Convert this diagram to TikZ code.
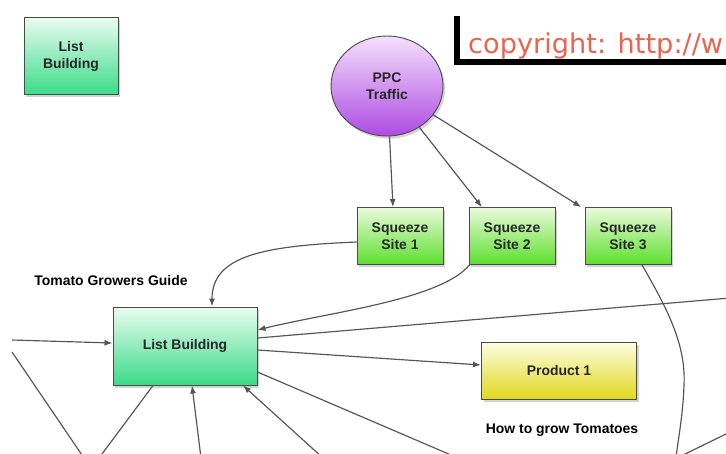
\documentclass[tikz,border=0pt]{standalone}
\usepackage{fontspec}
\setmainfont{Liberation Sans}
\newfontfamily\urlfont{DejaVu Sans}
\usetikzlibrary{arrows.meta,shapes.geometric,shadows}

\definecolor{edgegray}{HTML}{4A4A4A}
\definecolor{linkgray}{HTML}{555555}
\definecolor{listtop}{HTML}{EAFCF1}
\definecolor{listbot}{HTML}{3ADB88}
\definecolor{sqtop}{HTML}{EAFBDC}
\definecolor{sqbot}{HTML}{5CDF2C}
\definecolor{prodtop}{HTML}{FDFDE2}
\definecolor{prodbot}{HTML}{DFD81C}
\definecolor{ppctop}{HTML}{F5E0FC}
\definecolor{ppcbot}{HTML}{AE4AE4}
\definecolor{urlred}{HTML}{E8644F}

\begin{document}
\begin{tikzpicture}[x=0.3mm, y=-0.3mm,
  font=\bfseries\fontsize{11.9}{14.5}\selectfont,
  boxnode/.style={draw=edgegray, line width=0.8pt, align=center, text=black!85,
    drop shadow={shadow xshift=0.6mm, shadow yshift=-0.8mm, opacity=0.35}},
  listbox/.style={boxnode, top color=listtop, bottom color=listbot},
  sqbox/.style={boxnode, top color=sqtop, bottom color=sqbot,
    minimum width=25.8mm, minimum height=17.1mm},
  prodbox/.style={boxnode, top color=prodtop, bottom color=prodbot},
  ppcnode/.style={boxnode, ellipse, inner sep=0pt, top color=ppctop, bottom color=ppcbot},
  link/.style={draw=linkgray, line width=1pt},
  tip/.style={-{Latex[length=2.4mm,width=1.8mm]}}
]
  \useasboundingbox (0,0) rectangle (726,453);
  \clip (0,0) rectangle (726,453);

  % copyright frame, running off the right edge as in the screenshot
  \draw[black, line width=1.6mm] (457,16) -- (457,62) -- (740,62);
  \node[anchor=base west, inner sep=0pt, text=urlred,
        font=\urlfont\fontsize{23.2}{28}\selectfont] (copyright) at (468,53) {copyright: http://w};

  \node[listbox, minimum width=28.2mm, minimum height=23.1mm] (lbsmall) at (71,56) {List\\Building};
  \node[ppcnode, minimum width=33.6mm, minimum height=30mm] (ppc) at (387,86) {PPC\\Traffic};

  \node[sqbox] (ss1) at (400,236) {Squeeze\\Site 1};
  \node[sqbox] (ss2) at (512,236) {Squeeze\\Site 2};
  \node[sqbox] (ss3) at (628,236) {Squeeze\\Site 3};

  \node (guide) at (111,281) {Tomato Growers Guide};
  \node[listbox, minimum width=43.2mm, minimum height=23.4mm] (lb) at (185,346) {List Building};
  \node[prodbox, minimum width=46.5mm, minimum height=17.1mm] (prod) at (559,371) {Product 1};
  \node (howto) at (562,430) {How to grow Tomatoes};

  % loose ends, off the cut of the screenshot
  \coordinate (leftin) at (12,340);
  \coordinate (leftdown) at (12,352);
  \coordinate (botA) at (84,458);
  \coordinate (botB) at (99,458);
  \coordinate (botC) at (201,458);
  \coordinate (botD) at (323,458);
  \coordinate (botE) at (458,458);
  \coordinate (botF) at (676,458);
  \coordinate (botG) at (677,458);
  \coordinate (rightin) at (730,298);
  \coordinate (rightlow) at (730,432);

  \draw[link, tip] (ppc) -- ([xshift=-2.1mm]ss1.north);
  \draw[link, tip] (ppc) -- ([xshift=4mm]ss2.north west);
  \draw[link, tip] (ppc) -- ([xshift=-1mm]ss3.north west);

  \draw[link, tip] ([yshift=-1.8mm]ss1.west) .. controls (262,246) and (212,256) .. ([xshift=8.1mm]lb.north);
  \draw[link, tip] ([xshift=0.3mm]ss2.south west) .. controls (440,300) and (330,312) .. ([yshift=4.8mm]lb.east);
  \draw[link] (rightin) -- ([yshift=2.4mm]lb.east);
  \draw[link, tip] ([yshift=-1.2mm]lb.east) -- ([yshift=1.8mm]prod.west);
  \draw[link] ([yshift=-7.8mm]lb.east) -- (botE);

  \draw[link, tip] (leftin) -- ([yshift=0.9mm]lb.west);
  \draw[link] (leftdown) -- (botA);
  \draw[link] ([xshift=-9.6mm]lb.south) -- (botB);
  \draw[link, tip] (botC) -- ([xshift=2.1mm]lb.south);
  \draw[link, tip] (botD) -- ([xshift=17.4mm]lb.south);

  \draw[link] ([xshift=4.2mm]ss3.south) .. controls (668,310) and (686,345) .. (684,385)
    .. controls (683,415) and (678,440) .. (botF);
  \draw[link] (rightlow) -- (botG);
\end{tikzpicture}
\end{document}
